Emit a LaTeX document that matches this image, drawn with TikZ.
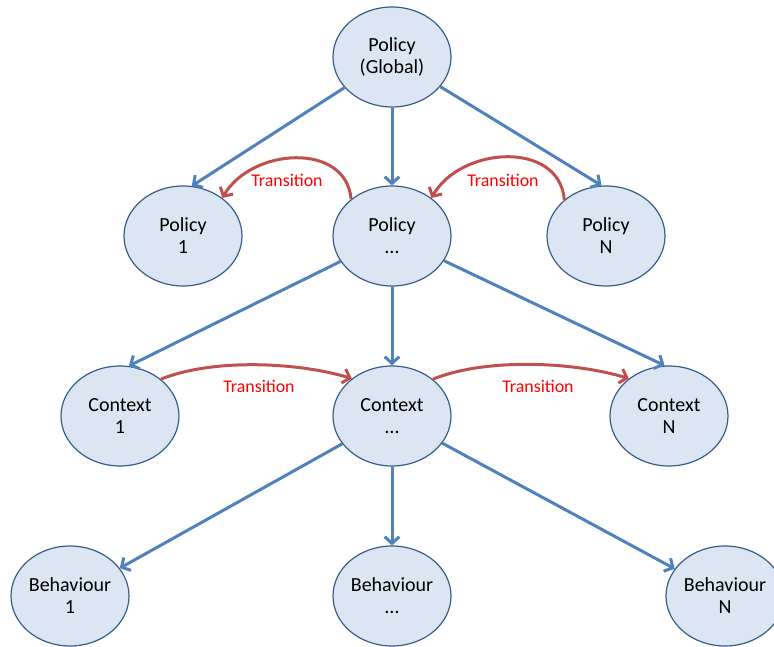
\documentclass[tikz,border=0pt]{standalone}
\usepackage{fontspec}
\setmainfont{Carlito}
\usetikzlibrary{shapes.geometric,arrows.meta}

\definecolor{nodefill}{RGB}{220,230,242}
\definecolor{nodeline}{RGB}{56,93,138}
\definecolor{linkblue}{RGB}{79,129,189}
\definecolor{transred}{RGB}{192,80,77}

\tikzset{state/.style={ellipse, draw=nodeline, line width=0.9pt, fill=nodefill,
    minimum width=88.5pt, minimum height=75pt, inner sep=0pt, align=center,
    font=\fontsize{15}{16.5}\selectfont},
  link/.style={line width=2.25pt, draw=linkblue, -{Straight Barb[length=5pt,width=11pt]}},
  trans/.style={line width=2.25pt, draw=transred, -{Straight Barb[length=5pt,width=11pt]}},
  translabel/.style={text=red, font=\fontsize{13.4}{15}\selectfont}}

\begin{document}
\begin{tikzpicture}[x=0.75pt,y=0.75pt]
\useasboundingbox (0,0) rectangle (774,646);

% policies
\node[state] (top) at (392,589) {Policy\\(Global)};
\node[state] (p1) at (183,410) {Policy\\1};
\node[state] (pm) at (392,410) {Policy\\…};
\node[state] (pN) at (606,410) {Policy\\N};

% contexts
\node[state] (c1) at (120,230) {Context\\1};
\node[state] (cm) at (392,230) {Context\\…};
\node[state] (cN) at (669,230) {Context\\N};

% behaviours
\node[state] (b1) at (70,50) {Behaviour\\1};
\node[state] (bm) at (392,50) {Behaviour\\…};
\node[state] (bN) at (725,50) {Behaviour\\N};

% hierarchy
\draw[link] (top) -- (p1.80);
\draw[link] (top) -- (pm);
\draw[link] (top) -- (pN.95);
\draw[link] (pm) -- (c1.80);
\draw[link] (pm) -- (cm);
\draw[link] (pm) -- (cN.95);
\draw[link] (cm) -- (b1);
\draw[link] (cm) -- (bm);
\draw[link] (cm) -- (bN);

% transitions
\draw[trans] (pm.138) to[out=95,in=60,looseness=1.15] (p1.44);
\draw[trans] (pN.139) to[out=95,in=60,looseness=1.15] (pm.44);
\draw[trans] (c1.42) to[out=22,in=163,looseness=0.75] (cm.137);
\draw[trans] (cm.42) to[out=22,in=163,looseness=0.75] (cN.137);

\node[translabel] (t1) at (287,466) {Transition};
\node[translabel] (t2) at (503,466) {Transition};
\node[translabel] (t3) at (259,260) {Transition};
\node[translabel] (t4) at (538,260) {Transition};

\end{tikzpicture}
\end{document}
